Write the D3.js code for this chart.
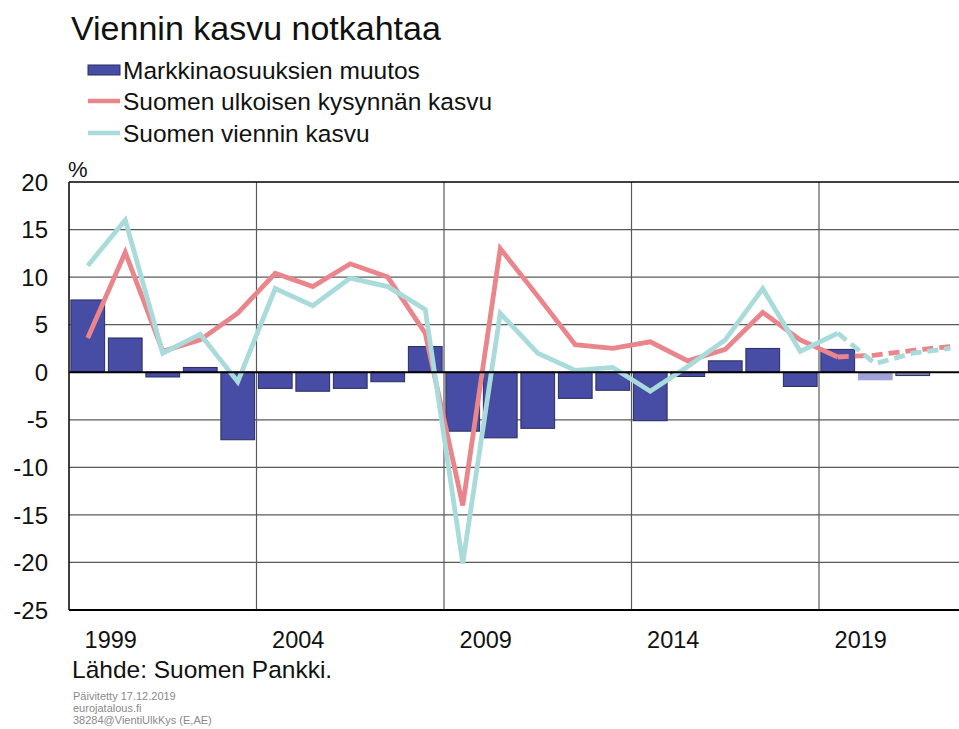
<!DOCTYPE html>
<html>
<head>
<meta charset="utf-8">
<script src="https://cdn.jsdelivr.net/npm/d3@7"></script>
<style>
  html, body { margin: 0; padding: 0; background: #fff; }
  svg { display: block; font-family: "Liberation Sans", Arial, sans-serif; }
</style>
</head>
<body>
<svg id="chart" width="959" height="729"></svg>
<script>
// ---- Data ----
const years = [1999,2000,2001,2002,2003,2004,2005,2006,2007,2008,2009,2010,2011,2012,2013,2014,2015,2016,2017,2018,2019,2020,2021,2022];
const barYears = years.slice(0, 23);
const marketShare = [7.6,3.6,-0.5,0.5,-7.1,-1.7,-2.0,-1.7,-1.0,2.7,-6.2,-6.9,-5.9,-2.75,-1.9,-5.1,-0.45,1.2,2.5,-1.5,2.4,-0.8,-0.35];
const demandGrowth = [3.6,12.6,2.2,3.4,6.2,10.4,9.0,11.4,10.0,4.1,-14.0,13.0,8.0,2.9,2.5,3.2,1.2,2.4,6.3,3.4,1.6,1.8,2.3,2.7];
const exportGrowth = [11.2,16.0,2.0,4.0,-1.0,8.8,7.0,9.9,9.0,6.6,-20.1,6.2,2.0,0.2,0.5,-2.0,0.6,3.4,8.8,2.2,4.1,0.9,2.0,2.5];
const forecastStart = 2019;
const yTicks = [20,15,10,5,0,-5,-10,-15,-20,-25];
const xLabelYears = [1999,2004,2009,2014,2019];
const legendLabels = ["Markkinaosuuksien muutos","Suomen ulkoisen kysynnän kasvu","Suomen viennin kasvu"];
const title = "Viennin kasvu notkahtaa";
const source = "Lähde: Suomen Pankki.";
const footer = ["Päivitetty 17.12.2019","eurojatalous.fi","38284@VientiUlkKys (E,AE)"];

// ---- Styles ----
const C = { bar: "#474ca4", barStroke: "#2a2d5e", barLight: "#9ea2d6", barGray: "#7e83a6",
            red: "#ea858b", cyan: "#a9dbdb", grid: "#5a5a5a" };

const svg = d3.select("#chart");
const L = 69, R = 969, T = 182, B = 610;

const x = d3.scaleBand().domain(years).range([L, R]).paddingInner(0.1).paddingOuter(0.05);
const y = d3.scaleLinear().domain([-25, 20]).range([B, T]);
const step = x.step();
const cx = d => x(d) + x.bandwidth() / 2;

svg.append("defs").append("clipPath").attr("id", "plotclip")
  .append("rect").attr("x", L).attr("y", T - 5).attr("width", R - L).attr("height", B - T + 10);

// horizontal grid
svg.append("g").selectAll("line").data(yTicks.filter(t => t !== 0 && t !== -25 && t !== 20)).join("line")
  .attr("x1", L).attr("x2", 959).attr("y1", d => y(d)).attr("y2", d => y(d))
  .attr("stroke", C.grid).attr("stroke-width", 1.2);

// vertical grid at year boundaries
svg.append("g").selectAll("line").data([2004, 2009, 2014, 2019]).join("line")
  .attr("x1", d => x(d) - step * 0.05).attr("x2", d => x(d) - step * 0.05)
  .attr("y1", T).attr("y2", B).attr("stroke", C.grid).attr("stroke-width", 1.2);

// bars
const plot = svg.append("g").attr("clip-path", "url(#plotclip)");
plot.append("g").selectAll("rect").data(barYears.map((yr, i) => ({ yr, v: marketShare[i] }))).join("rect")
  .attr("x", d => x(d.yr)).attr("width", x.bandwidth())
  .attr("y", d => y(Math.max(0, d.v))).attr("height", d => Math.abs(y(d.v) - y(0)))
  .attr("fill", d => d.yr === 2020 ? C.barLight : d.yr === 2021 ? C.barGray : C.bar)
  .attr("stroke", d => d.yr === 2020 ? C.barLight : C.barStroke).attr("stroke-width", 1);

// zero line
svg.append("line").attr("x1", L).attr("x2", 959).attr("y1", y(0)).attr("y2", y(0))
  .attr("stroke", "#000").attr("stroke-width", 2);

// lines
const line = d3.line().x(d => cx(d.yr)).y(d => y(d.v));
function drawSeries(vals, color) {
  const pts = years.map((yr, i) => ({ yr, v: vals[i] }));
  const solid = pts.filter(p => p.yr <= forecastStart);
  const dashed = pts.filter(p => p.yr >= forecastStart);
  plot.append("path").datum(solid).attr("d", line).attr("fill", "none")
    .attr("stroke", color).attr("stroke-width", 4.8).attr("stroke-linejoin", "miter");
  plot.append("path").datum(dashed).attr("d", line).attr("fill", "none")
    .attr("stroke", color).attr("stroke-width", 4.8).attr("stroke-dasharray", "11,6");
}
drawSeries(demandGrowth, C.red);
drawSeries(exportGrowth, C.cyan);

// frame
svg.append("line").attr("x1", L).attr("x2", 959).attr("y1", T).attr("y2", T).attr("stroke", "#000").attr("stroke-width", 1.5);
svg.append("line").attr("x1", L).attr("x2", 959).attr("y1", B).attr("y2", B).attr("stroke", "#000").attr("stroke-width", 2);
svg.append("line").attr("x1", L).attr("x2", L).attr("y1", T).attr("y2", B).attr("stroke", "#000").attr("stroke-width", 1.5);

// y tick labels
svg.append("g").selectAll("text").data(yTicks).join("text")
  .attr("x", 48).attr("y", d => y(d)).attr("dy", "0.36em").attr("text-anchor", "end")
  .attr("font-size", 24).attr("fill", "#111").text(d => d);

// x labels
svg.append("g").selectAll("text").data(xLabelYears).join("text")
  .attr("x", d => cx(d) + 23).attr("y", 648).attr("text-anchor", "middle")
  .attr("font-size", 23.5).attr("fill", "#111").text(d => d);

// % label
svg.append("text").attr("x", 68).attr("y", 177).attr("font-size", 22).attr("fill", "#111").text("%");

// title
svg.append("text").attr("x", 71).attr("y", 40).attr("font-size", 34).attr("fill", "#111").text(title);

// legend
const lg = svg.append("g");
const legY = [70, 101, 133];
lg.append("rect").attr("x", 88).attr("y", legY[0] - 5).attr("width", 32).attr("height", 10)
  .attr("fill", C.bar).attr("stroke", C.barStroke).attr("stroke-width", 1);
lg.append("line").attr("x1", 88).attr("x2", 120).attr("y1", legY[1]).attr("y2", legY[1]).attr("stroke", C.red).attr("stroke-width", 4.5);
lg.append("line").attr("x1", 88).attr("x2", 120).attr("y1", legY[2]).attr("y2", legY[2]).attr("stroke", C.cyan).attr("stroke-width", 4.5);
lg.selectAll("text").data(legendLabels).join("text")
  .attr("x", 123).attr("y", (d, i) => legY[i]).attr("dy", "0.36em")
  .attr("font-size", 24.5).attr("fill", "#111").text(d => d);

// source
svg.append("text").attr("x", 72).attr("y", 678).attr("font-size", 24.5).attr("fill", "#111").text(source);
svg.append("g").selectAll("text").data(footer).join("text")
  .attr("x", 73).attr("y", (d, i) => 700 + i * 12).attr("font-size", 11).attr("fill", "#8a8a8a").text(d => d);
</script>
</body>
</html>
